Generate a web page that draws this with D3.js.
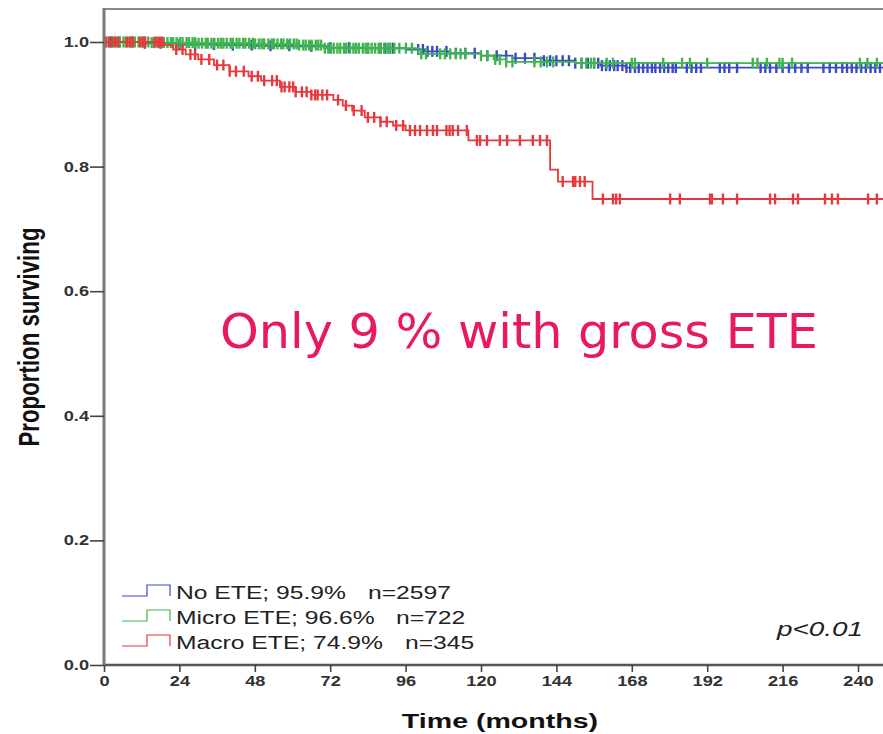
<!DOCTYPE html>
<html>
<head>
<meta charset="utf-8">
<script src="https://cdn.jsdelivr.net/npm/d3@7"></script>
<style>
  body { margin: 0; background: #fff; }
  svg { display: block; font-family: "Liberation Sans", Arial, sans-serif; }
</style>
</head>
<body>
<svg id="km" width="883" height="734"></svg>
<script>
// Kaplan-Meier steps: [months, proportion surviving]
const blueSteps = [[0, 1], [12, 0.998], [24, 0.996], [36, 0.995], [48, 0.994], [60, 0.993], [72, 0.991],
  [84, 0.99], [96, 0.988], [102, 0.985], [110, 0.982], [120, 0.978], [130, 0.974], [140, 0.97],
  [150, 0.966], [158, 0.962], [166, 0.959]]
const greenSteps = [[0, 1], [15, 0.999], [30, 0.998], [48, 0.997], [62, 0.995], [70, 0.99], [100, 0.981],
  [120, 0.978], [124, 0.972], [128, 0.968], [150, 0.966]]
const redSteps = [[0, 1], [19, 0.995], [22, 0.988], [26, 0.98], [30, 0.972], [35, 0.963], [40, 0.953],
  [46, 0.945], [50, 0.938], [56, 0.928], [61, 0.92], [66, 0.915], [73, 0.907], [76, 0.898], [79, 0.89],
  [83, 0.879], [88, 0.872], [92, 0.866], [96, 0.858], [116, 0.842], [142, 0.795], [144.5, 0.776], [155.5, 0.748]]

// censored observations (months)
const blueCensor = [2, 5, 9, 13, 18, 24, 29, 35, 41, 47, 53, 59, 66, 72, 78, 84, 88, 89.5, 91, 92, 100, 101.5,
  103, 104.5, 106, 109, 112, 115, 118, 122, 125, 128, 131, 134, 137, 140, 142, 144, 146, 148, 150, 152, 154, 156,
  157.3, 158.5, 159.8, 161, 162.4, 163.5, 165, 166.3, 167.5, 169, 170.2, 171.6, 173, 174.4, 175.5, 177, 178.3,
  179.6, 181, 182, 185.5, 187, 188.5, 190, 196, 197.5, 199, 201.5, 209, 210.5, 212, 214, 216, 218, 220, 222, 224,
  229, 231, 233, 235, 236.5, 238, 239.5, 241, 242.5, 244, 245.5, 247]
const greenCensor = [0.5, 1.5, 2.5, 3.2, 4.1, 5, 6.2, 7, 8.1, 9, 9.8, 11, 12.2, 13, 14.1, 15.2, 16, 17.3, 18.1,
  19, 20.2, 21.3, 22, 23.1, 24.2, 25, 26.3, 27.1, 28.2, 29, 30.1, 31.2, 32.4, 33, 34.2, 35.1, 36.3, 37.2, 38,
  39.1, 40.3, 41, 42.2, 43.1, 44.3, 45, 46.2, 47.4, 48.1, 49.3, 50.2, 51, 52.3, 53.4, 54.1, 55.2, 56.4, 57.1,
  58.3, 59.2, 60.4, 61.3, 62.1, 63.4, 64.2, 65.3, 66.1, 67.4, 68.2, 69.1, 70.3, 71.4, 72.2, 73.1, 74.3, 75.2,
  76.4, 77.1, 78.3, 79.4, 80.2, 81.1, 82.4, 83.3, 84.1, 85.2, 86.3, 87.4, 88.1, 89.2, 90.3, 91.1, 92.4, 94, 96.1,
  98, 101, 102.5, 107, 108.5, 110.2, 112, 113.5, 115, 120, 122, 124.5, 126, 128, 130, 137, 139, 141, 143,
  152, 153.5, 155, 156, 160, 162, 168, 169, 178, 184, 186.5, 192, 206.5, 208, 211, 215, 216, 219, 240.6, 243, 246]
const redCensor = [0.5, 1.5, 2.5, 3.5, 4.5, 7.3, 8.2, 9.1, 11.5, 12.4, 13.1, 16.2, 17, 17.8, 18.6, 23, 25, 27.5,
  29, 31, 33.5, 36, 38, 40, 42, 44.5, 47, 49, 51, 53.5, 55, 56.5, 57.5, 59, 60.2, 61, 63, 64.5, 66, 67.2, 68,
  69.5, 71, 74.5, 77, 79.5, 82, 84, 86, 88, 90, 93, 95.2, 97.4, 99, 100.6, 102.8, 104.7, 106, 109, 110, 111,
  112.7, 115.5, 118.7, 119.7, 121.9, 126, 128.3, 132.4, 136.5, 138.8, 141, 146, 149.3, 150, 151.5, 153, 158.8,
  162, 163, 164.2, 180.2, 183.3, 192.9, 193.5, 197, 201.5, 212, 213.6, 219.3, 220.9, 229.5, 231.7, 233.6, 243.2, 246]

const xTicks = [0, 24, 48, 72, 96, 120, 144, 168, 192, 216, 240]
const yTicks = [0, 0.2, 0.4, 0.6, 0.8, 1.0]

const legendLabels = [
  {name: "No ETE; 95.9%", n: "n=2597", color: "#3a4cc4"},
  {name: "Micro ETE; 96.6%", n: "n=722", color: "#3fb54d"},
  {name: "Macro ETE; 74.9%", n: "n=345", color: "#e6393e"}
]

const svg = d3.select("#km")
const margin = {top: 10, left: 104, bottom: 665}
const squash = 1.36   // the source picture is stretched sideways

const x = d3.scaleLinear().domain([0, 264]).range([margin.left, margin.left + 264 * 3.1417])
const y = d3.scaleLinear().domain([0, 1]).range([margin.bottom, 42])

// widen a text selection by the picture's stretch
const stretch = (sel, k) => sel.each(function() {
  const len = this.getComputedTextLength()
  d3.select(this).attr("textLength", len * k).attr("lengthAdjust", "spacingAndGlyphs")
})

// frame
svg.append("line")
    .attr("x1", margin.left).attr("x2", 883)
    .attr("y1", margin.top - 1).attr("y2", margin.top - 1)
    .attr("stroke", "#8a8a8a").attr("stroke-width", 2)

const series = [
  {steps: blueSteps, censor: blueCensor, color: legendLabels[0].color},
  {steps: greenSteps, censor: greenCensor, color: legendLabels[1].color},
  {steps: redSteps, censor: redCensor, color: legendLabels[2].color}
]

const line = d3.line()
    .x(d => x(d[0]))
    .y(d => y(d[1]))
    .curve(d3.curveStepAfter)

// value at time t of a step function
const survAt = (steps, t) => {
  let s = steps[0][1]
  steps.forEach(d => { if (d[0] <= t) s = d[1] })
  return s
}

series.forEach(s => {
  const pts = s.steps.concat([[264, s.steps[s.steps.length - 1][1]]])
  svg.append("path")
      .attr("d", line(pts))
      .attr("fill", "none")
      .attr("stroke", s.color)
      .attr("stroke-width", 1.8)

  svg.append("g").selectAll("line").data(s.censor).join("line")
      .attr("x1", d => x(d)).attr("x2", d => x(d))
      .attr("y1", d => y(survAt(s.steps, d)) - 5.5)
      .attr("y2", d => y(survAt(s.steps, d)) + 5.5)
      .attr("stroke", s.color)
      .attr("stroke-width", 2.4)
})

// axes
const xAxis = svg.append("g")
    .attr("transform", `translate(0,${margin.bottom})`)
    .call(d3.axisBottom(x).tickValues(xTicks).tickSize(7).tickPadding(4))
const yAxis = svg.append("g")
    .attr("transform", `translate(${margin.left},0)`)
    .call(d3.axisLeft(y).tickValues(yTicks).tickFormat(d3.format(".1f")).tickSize(14).tickPadding(1))

xAxis.select(".domain").attr("d", `M${margin.left},0H883`).attr("stroke", "#555").attr("stroke-width", 2.5)
yAxis.select(".domain").attr("d", `M0,${margin.top - 2}V${margin.bottom}`).attr("stroke", "#7a7a7a").attr("stroke-width", 3)
svg.selectAll(".tick line").attr("stroke", "#444").attr("stroke-width", 1.6)
svg.selectAll(".tick text")
    .attr("fill", "#333")
    .style("font-size", "14px")
    .style("font-weight", "bold")
    .style("font-family", "'Liberation Sans', Arial, sans-serif")
    .call(stretch, 1.3)

// axis titles
svg.append("text")
    .attr("x", 500).attr("y", 728)
    .attr("text-anchor", "middle")
    .style("font-size", "21px").style("font-weight", "bold").attr("fill", "#111")
    .text("Time (months)")
    .call(stretch, squash)
svg.append("text")
    .attr("transform", `translate(39,337) scale(${squash},1) rotate(-90)`)
    .attr("text-anchor", "middle")
    .style("font-size", "22px").style("font-weight", "bold").attr("fill", "#111")
    .attr("textLength", 219).attr("lengthAdjust", "spacingAndGlyphs")
    .text("Proportion surviving")

// legend
const legend = svg.append("g")
legendLabels.forEach((d, i) => {
  const ly = 596 + i * 25
  legend.append("path")
      .attr("d", `M122,${ly}H147V${ly - 11}H170V${ly}`)
      .attr("fill", "none").attr("stroke", d.color).attr("stroke-width", 1.2)
  legend.append("text")
      .attr("x", 176).attr("y", ly + 3)
      .style("font-size", "18px").attr("fill", "#222")
      .text(d.name)
      .call(stretch, 1.37)
  legend.append("text")
      .attr("x", [368, 396, 405][i]).attr("y", ly + 3)
      .style("font-size", "18px").attr("fill", "#222")
      .text(d.n)
      .call(stretch, 1.37)
})

svg.append("text")
    .attr("x", 863).attr("y", 636)
    .attr("text-anchor", "end")
    .style("font-size", "20px").style("font-style", "italic").attr("fill", "#222")
    .attr("textLength", 86).attr("lengthAdjust", "spacingAndGlyphs")
    .text("p<0.01")

svg.append("text")
    .attr("x", 220).attr("y", 348)
    .style("font-family", "'DejaVu Sans', Verdana, sans-serif")
    .style("font-size", "48px").attr("fill", "#e8195e")
    .attr("textLength", 598).attr("lengthAdjust", "spacingAndGlyphs")
    .text("Only 9 % with gross ETE")
</script>
</body>
</html>
